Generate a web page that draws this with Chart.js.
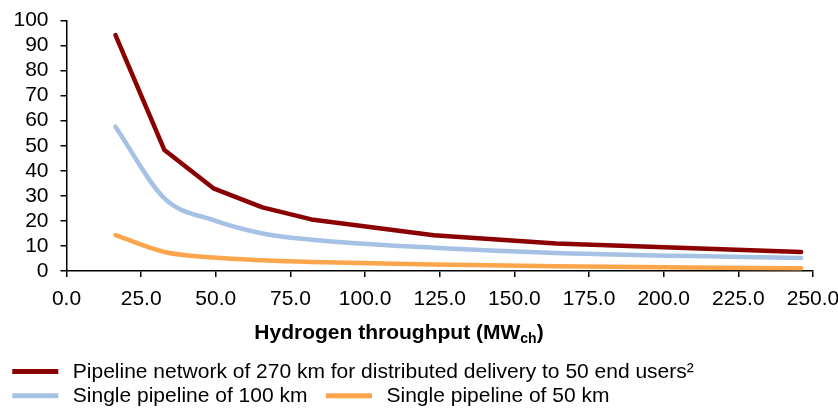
<!DOCTYPE html>
<html>
<head>
<meta charset="utf-8">
<script src="https://cdn.jsdelivr.net/npm/chart.js@4.4.1/dist/chart.umd.min.js"></script>
<style>
  html, body { margin: 0; padding: 0; background: #ffffff; }
  #wrap { width: 838px; height: 408px; }
</style>
</head>
<body>
<div id="wrap"><canvas id="c" width="838" height="408"></canvas></div>
<script>
// ---- data ----
const throughput = [16.4, 32.8, 49.2, 65.6, 82.0, 123.0, 164.0, 246.0];
const networkCost = [94.2, 48.3, 33.0, 25.4, 20.6, 14.3, 11.0, 7.6];
const pipe100Cost = [57.6, 29.0, 20.3, 15.0, 12.5, 9.3, 7.2, 5.2];
const pipe50Cost  = [14.3, 7.6, 5.4, 4.3, 3.6, 2.6, 1.9, 1.1];
const seriesNames = [
  'Pipeline network of 270 km for distributed delivery to 50 end users\u00B2',
  'Single pipeline of 100 km',
  'Single pipeline of 50 km'
];
const xTitleMain = 'Hydrogen throughput (MW';
const xTitleSub = 'ch';
const xTitleEnd = ')';

const FONT = '"Liberation Sans", Arial, sans-serif';
const colors = ['#8b0000', '#a5c1e3', '#fda54c'];

function pts(vals) { return throughput.map((x, i) => ({x: x, y: vals[i]})); }

const titleLegendPlugin = {
  id: 'titleLegend',
  afterDraw(chart) {
    const ctx = chart.ctx;
    ctx.save();
    // axis title with subscript
    ctx.fillStyle = '#000';
    ctx.textBaseline = 'alphabetic';
    ctx.font = 'bold 21px ' + FONT;
    const w1 = ctx.measureText(xTitleMain).width;
    const w3 = ctx.measureText(xTitleEnd).width;
    ctx.font = 'bold 14px ' + FONT;
    const w2 = ctx.measureText(xTitleSub).width;
    const total = w1 + w2 + w3;
    let x = 399 - total / 2;
    const base = 338.5;
    ctx.font = 'bold 21px ' + FONT;
    ctx.textAlign = 'left';
    ctx.fillText(xTitleMain, x, base);
    x += w1;
    ctx.font = 'bold 14px ' + FONT;
    ctx.fillText(xTitleSub, x, base + 4.5);
    x += w2;
    ctx.font = 'bold 21px ' + FONT;
    ctx.fillText(xTitleEnd, x, base);

    // legend
    const ds = chart.data.datasets;
    const items = [
      {i: 0, lx: 12.3, y: 371.5},
      {i: 1, lx: 12.3, y: 395.7},
      {i: 2, lx: 326, y: 395.7}
    ];
    ctx.font = '21px ' + FONT;
    ctx.textBaseline = 'middle';
    items.forEach(it => {
      ctx.strokeStyle = ds[it.i].borderColor;
      ctx.lineWidth = 5;
      ctx.lineCap = 'butt';
      ctx.beginPath();
      ctx.moveTo(it.lx, it.y);
      ctx.lineTo(it.lx + 46, it.y);
      ctx.stroke();
      ctx.fillStyle = '#000';
      ctx.fillText(ds[it.i].label, it.lx + 60.5, it.y + 1);
    });
    ctx.restore();
  }
};

new Chart(document.getElementById('c'), {
  type: 'line',
  data: {
    datasets: [
      {label: seriesNames[0], data: pts(networkCost), borderColor: colors[0], tension: 0},
      {label: seriesNames[1], data: pts(pipe100Cost), borderColor: colors[1], cubicInterpolationMode: 'monotone'},
      {label: seriesNames[2], data: pts(pipe50Cost), borderColor: colors[2], cubicInterpolationMode: 'monotone'}
    ]
  },
  options: {
    responsive: false,
    animation: false,
    parsing: true,
    elements: {
      point: {radius: 0, hoverRadius: 0},
      line: {borderWidth: 4.5, borderCapStyle: 'round', borderJoinStyle: 'round', fill: false}
    },
    layout: {padding: {left: 0, right: 25, top: 20.5, bottom: 97}},
    plugins: {legend: {display: false}, tooltip: {enabled: false}, title: {display: false}},
    scales: {
      x: {
        type: 'linear',
        min: 0, max: 250,
        ticks: {
          stepSize: 25, autoSkip: false, maxRotation: 0, minRotation: 0,
          color: '#000', padding: 10,
          font: {family: FONT, size: 21},
          callback: v => Number(v).toFixed(1)
        },
        grid: {drawOnChartArea: false, drawTicks: true, tickLength: 6, color: '#000', lineWidth: 1.5},
        border: {display: true, color: '#000', width: 1.5},
        afterFit(s) { s.height = 40; s.paddingLeft = 0; s.paddingRight = 0; }
      },
      y: {
        min: 0, max: 100,
        ticks: {stepSize: 10, autoSkip: false, color: '#000', padding: 12, font: {family: FONT, size: 21}},
        grid: {drawOnChartArea: false, drawTicks: true, tickLength: 6, color: '#000', lineWidth: 1.5},
        border: {display: true, color: '#000', width: 1.5},
        afterFit(s) { s.width = 66.5; s.paddingTop = 0; s.paddingBottom = 0; }
      }
    }
  },
  plugins: [titleLegendPlugin]
});
</script>
</body>
</html>
